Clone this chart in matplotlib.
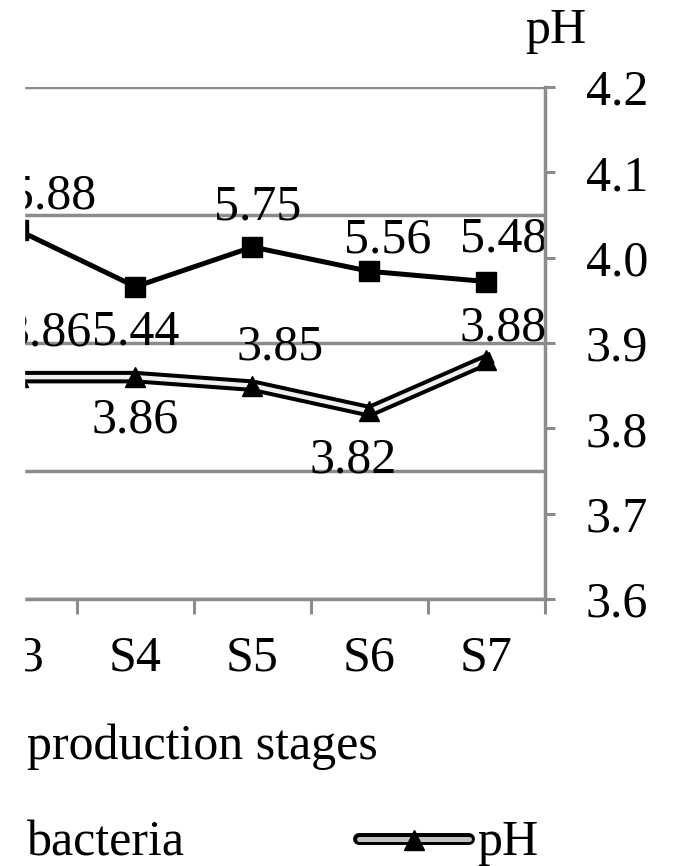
import numpy as np
import matplotlib.pyplot as plt
from matplotlib.lines import Line2D
from matplotlib.patches import Rectangle

plt.rcParams['font.family'] = ['Liberation Serif', 'DejaVu Serif']

# Datos por etapa de producción
categories = ['S3', 'S4', 'S5', 'S6', 'S7']
bacteria = [5.88, 5.44, 5.75, 5.56, 5.48]
ph = [3.86, 3.86, 3.85, 3.82, 3.88]

# desplazamiento (px) de cada etiqueta respecto a su punto
bac_offsets = [(34, 22), (0, -58), (5, 27), (18, 19), (17, 30)]
ph_offsets = [(30, 32), (0, -55), (28, 26), (-16, -61), (17, 20)]

W, H = 675, 866
FS = 36
gris = '#8c8c8c'


def fx(px):
    return px / W


def fy(py):
    return 1 - py / H


fig = plt.figure(figsize=(W / 100, H / 100), dpi=100)
ax = fig.add_axes([fx(-274), fy(599), (545 + 274) / W, (599 - 87) / H])

x = np.arange(len(categories))
ax.set_xlim(-2.5, 4.5)
ax.set_ylim(3, 7)
ax.set_yticks([3, 4, 5, 6, 7])
ax.yaxis.grid(True, color=gris, lw=2.5)
ax.set_axisbelow(True)
ax.tick_params(axis='y', left=False, labelleft=False)
for s in ['left', 'top', 'right']:
    ax.spines[s].set_visible(False)
ax.spines['bottom'].set_color(gris)
ax.spines['bottom'].set_linewidth(2.5)

ax.set_xticks(x, categories)
ax.set_xticks(np.arange(-2.5, 4.6, 1), minor=True)
ax.tick_params(axis='x', which='major', length=0, pad=26, labelsize=FS)
ax.tick_params(axis='x', which='minor', length=11, width=2.2, color=gris,
               direction='out')

# bacterias: línea negra con cuadrados
ax.plot(x, bacteria, color='black', lw=3.6, marker='s', ms=14, zorder=3)
for xi, v, (dx, dy) in zip(x, bacteria, bac_offsets):
    ax.annotate(f'{v:.2f}', (xi, v), xytext=(dx, dy), textcoords='offset pixels',
                ha='center', va='baseline', fontsize=FS)

# pH en el eje derecho: línea doble con triángulos
ax2 = ax.twinx()
ax2.set_ylim(3.6, 4.2)
ax2.set_yticks(np.arange(3.6, 4.21, 0.1))
ax2.set_yticklabels([f'{t:.1f}' for t in np.arange(3.6, 4.21, 0.1)])
ax2.tick_params(axis='y', length=7.5, width=2.2, color=gris, pad=22, labelsize=FS)
for s in ['left', 'top', 'bottom']:
    ax2.spines[s].set_visible(False)
ax2.spines['right'].set_color(gris)
ax2.spines['right'].set_linewidth(2.5)

ax2.plot(x, ph, color='black', lw=9, zorder=3)
ax2.plot(x, ph, color='#f0f0f0', lw=3.2, zorder=4)
ax2.plot(x, ph, ls='none', marker='^', ms=14, color='black', zorder=5)
for xi, v, (dx, dy) in zip(x, ph, ph_offsets):
    ax2.annotate(f'{v:.2f}', (xi, v), xytext=(dx, dy), textcoords='offset pixels',
                 ha='center', va='baseline', fontsize=FS)

# títulos y leyenda
fig.text(fx(556), fy(43), 'pH', ha='center', va='baseline', fontsize=FS)
fig.text(fx(27), fy(759), 'production stages', ha='left', va='baseline', fontsize=FS)
fig.text(fx(27), fy(855), 'bacteria', ha='left', va='baseline', fontsize=FS)

fig.add_artist(Line2D([fx(359), fx(469)], [fy(839), fy(839)], transform=fig.transFigure,
                      color='black', lw=8.6, solid_capstyle='round'))
fig.add_artist(Line2D([fx(359), fx(469)], [fy(839), fy(839)], transform=fig.transFigure,
                      color='#c0c0c0', lw=3.6, solid_capstyle='round'))
fig.add_artist(Line2D([fx(414)], [fy(840)], transform=fig.transFigure,
                      ls='none', marker='^', ms=14, color='black'))
fig.text(fx(477), fy(855), 'pH', ha='left', va='baseline', fontsize=FS)

# borde blanco a la izquierda
fig.add_artist(Rectangle((0, 0), fx(24), 1, transform=fig.transFigure,
                         color='white', zorder=10))

fig.savefig('out.png', dpi=100)
